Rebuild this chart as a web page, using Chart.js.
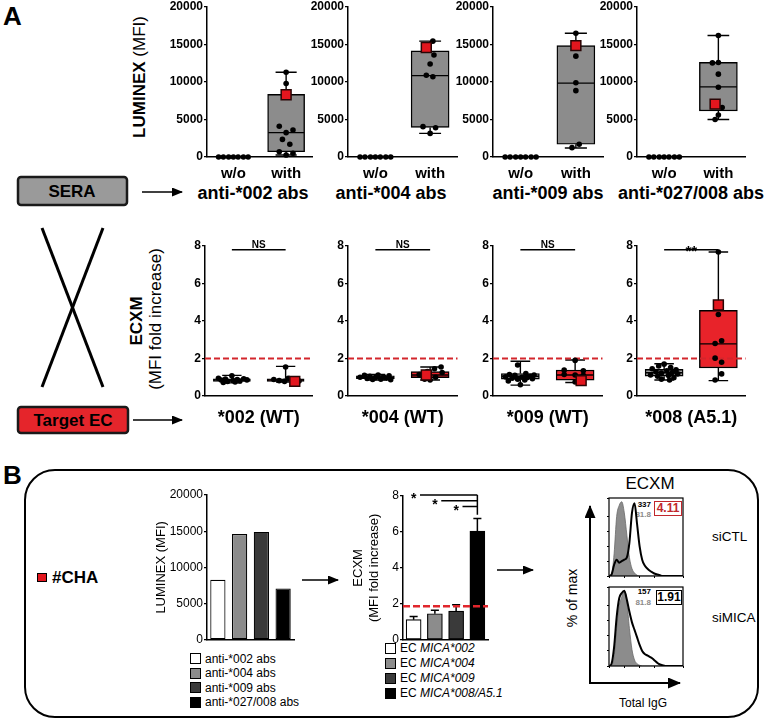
<!DOCTYPE html>
<html><head><meta charset="utf-8"><title>MICA antibodies ECXM</title>
<script src="https://cdn.jsdelivr.net/npm/chart.js@4.4.1/dist/chart.umd.min.js"></script>
<style>
html,body{margin:0;padding:0;background:#fff;}
#fig{position:relative;width:765px;height:720px;overflow:hidden;background:#fff;font-family:"Liberation Sans",Arial,Helvetica,sans-serif;color:#000;}
#fig canvas{position:absolute;}
#fig svg{position:absolute;left:0;top:0;}
.t{position:absolute;white-space:nowrap;line-height:1;}
.c{transform:translate(-50%,-50%);}
.r{transform:translate(-50%,-50%) rotate(-90deg);}
.sq{position:absolute;box-sizing:border-box;border:1px solid #000;}
</style></head>
<body><div id="fig">
<svg width="765" height="720">
<defs>
<marker id="ah" markerWidth="11" markerHeight="9" refX="10" refY="4.5" orient="auto" markerUnits="userSpaceOnUse"><path d="M0,0 L11,4.5 L0,9 z" fill="#000"/></marker>
<marker id="ah2" markerWidth="13" markerHeight="11" refX="12" refY="5.5" orient="auto" markerUnits="userSpaceOnUse"><path d="M0,0 L13,5.5 L0,11 z" fill="#000"/></marker>
</defs>
<rect x="18" y="177" width="109" height="28" rx="3" fill="#9a9a9a" stroke="#1a1a1a" stroke-width="2.5"/>
<line x1="142" y1="192" x2="182" y2="192" stroke="#000" stroke-width="1.6" marker-end="url(#ah)"/>
<line x1="42" y1="228" x2="103" y2="387" stroke="#000" stroke-width="3"/>
<line x1="103" y1="228" x2="42" y2="387" stroke="#000" stroke-width="3"/>
<rect x="18" y="407" width="110" height="26" rx="3" fill="#e5252b" stroke="#1a1a1a" stroke-width="2.5"/>
<line x1="133" y1="420" x2="182" y2="420" stroke="#000" stroke-width="1.6" marker-end="url(#ah)"/>
<rect x="25" y="470" width="733" height="247" rx="30" fill="none" stroke="#000" stroke-width="2"/>
<line x1="302" y1="580" x2="338" y2="580" stroke="#000" stroke-width="1.6" marker-end="url(#ah)"/>
<line x1="497" y1="570" x2="533" y2="570" stroke="#000" stroke-width="1.6" marker-end="url(#ah)"/>
<line x1="590" y1="684" x2="590" y2="506" stroke="#000" stroke-width="2" marker-end="url(#ah2)"/>
<line x1="589" y1="683" x2="680" y2="683" stroke="#000" stroke-width="2" marker-end="url(#ah2)"/>
</svg>
<div class="t" style="left:3px;top:3px;font-size:26px;font-weight:bold;">A</div>
<div class="t" style="left:3px;top:462px;font-size:26px;font-weight:bold;">B</div>
<div class="t c" style="left:72px;top:191px;font-size:17px;font-weight:bold;">SERA</div>
<div class="t c" style="left:73px;top:420px;font-size:17px;font-weight:bold;">Target EC</div>
<div class="t r" style="left:139px;top:77px;font-size:17px;"><b>LUMINEX</b> (MFI)</div>
<div class="t r" style="left:136px;top:321px;font-size:17px;font-weight:bold;">ECXM</div>
<div class="t r" style="left:155px;top:319px;font-size:17px;">(MFI fold increase)</div>
<div class="sq" style="left:37px;top:573px;width:10px;height:9px;background:#e3161e;"></div>
<div class="t" style="left:52px;top:569px;font-size:17px;font-weight:bold;">#CHA</div>
<div class="t c" style="left:650px;top:483px;font-size:17px;">ECXM</div>
<div class="t r" style="left:572px;top:598px;font-size:14px;">% of max</div>
<div class="t c" style="left:643px;top:703px;font-size:12px;">Total IgG</div>
<div class="t" style="left:712px;top:530px;font-size:13.5px;">siCTL</div>
<div class="t" style="left:712px;top:611px;font-size:13.5px;">siMICA</div>
<div id="titles"></div>
<div id="flowtext"></div>
<div id="legends"></div>
</div>
<script>
const FONT='"Liberation Sans", Arial, Helvetica, sans-serif';
Chart.defaults.font.family=FONT;
Chart.defaults.color='#000';

// ================= DATA =================
const groupLabels=['w/o','with'];
const luminexTitles=['anti-*002 abs','anti-*004 abs','anti-*009 abs','anti-*027/008 abs'];
const ecTitles=['*002 (WT)','*004 (WT)','*009 (WT)','*008 (A5.1)'];
const luminexTicks=[0,5000,10000,15000,20000];
const ecxmTicks=[0,2,4,6,8];

// A, top row: LUMINEX MFI of sera without / with anti-MICA antibodies
const lumWithoutAbs=[0,0,0,0,0,0,0];
const lumWithoutJitter=[-0.28,-0.19,-0.09,0,0.09,0.19,0.28];
const lumWith002=[11300,9800,4100,3600,3250,2350,1700,700,500,270];
const lumJit002=[0,0,-0.13,0.13,0,-0.07,0.07,-0.13,0.13,0];
const lumWith004=[15450,13600,12400,10900,10700,4050,3900,3150];
const lumJit004=[0.05,0.07,0,-0.07,0.05,-0.13,0.1,0];
const lumWith009=[16500,13450,9900,8850,1700,1250];
const lumJit009=[0,0,0,0,0.06,-0.07];
const lumWith027=[16200,12550,12600,11050,9300,6600,5600,5000];
const lumJit027=[0,-0.11,0,0,0,0.07,0,-0.06];
// box stats: [min, q1, median, q3, max]
const lumBox002=[270,700,3250,8350,11300];
const lumBox004=[3150,3950,10850,14150,15450];
const lumBox009=[1200,1700,9850,14850,16500];
const lumBox027=[5000,6150,9350,12620,16200];
// patient #CHA (red square)
const lumCHA=[8300,14600,14850,7050];
const lumCHAJitter=[0,-0.07,0,-0.06];

// A, bottom row: ECXM fold increase on target EC
const ecWo002=[1.08,0.95,0.92,0.9,0.88,0.86,0.85,0.83,0.8,0.78,0.75,0.72];
const ecWoJit002=[0,-0.25,0.22,-0.12,0.1,0.28,-0.2,0.02,0.15,-0.08,0.06,-0.16];
const ecWith002=[1.55,0.95,0.88,0.85,0.82,0.8,0.78];
const ecWithJit002=[0,0.05,-0.22,0.12,-0.12,0.25,-0.02];
const ecWo004=[1.12,1.1,1.08,1.05,1.02,1.0,0.98,0.95,0.93,0.9,0.88,0.87];
const ecWoJit004=[0.05,-0.2,0.25,-0.1,0.15,-0.28,0,0.2,-0.15,0.1,-0.05,0.28];
const ecWith004=[1.55,1.45,1.3,1.25,1.15,1.0,0.9,0.85];
const ecWithJit004=[0.2,0.08,-0.05,0.22,-0.2,0.1,-0.1,0];
const ecWo009=[1.65,1.2,1.15,1.12,1.1,1.05,1.02,1.0,0.98,0.95,0.92,0.9,0.85,0.8,0.6];
const ecWoJit009=[-0.05,0.1,-0.2,0.25,-0.1,0.18,-0.27,0.03,0.12,-0.15,0.22,-0.05,0.08,-0.22,0];
const ecWith009=[1.9,1.38,1.35,1.15,1.12,1.1,0.75];
const ecWithJit009=[0,-0.2,0.15,-0.2,0,0.15,0];
const ecWo008=[1.7,1.6,1.52,1.45,1.4,1.35,1.3,1.25,1.22,1.18,1.12,1.1,1.05,0.98,0.9,0.85];
const ecWoJit008=[0,-0.1,0.12,-0.22,0.22,0.05,-0.15,0.15,-0.05,0.25,-0.25,0.08,-0.12,0.18,-0.05,0.1];
const ecWith008=[7.68,4.35,2.95,2.8,2.02,1.8,1.18,0.85];
const ecWithJit008=[0,0,0.06,-0.06,-0.06,0.06,0.06,-0.06];
const ecBoxWo002=[0.7,0.78,0.85,0.92,1.1];
const ecBoxWith002=[0.75,0.78,0.85,0.92,1.58];
const ecBoxWo004=[0.85,0.93,1.0,1.08,1.15];
const ecBoxWith004=[0.85,0.98,1.12,1.3,1.55];
const ecBoxWo009=[0.58,0.9,1.05,1.2,1.85];
const ecBoxWith009=[0.72,0.85,1.12,1.38,1.92];
const ecBoxWo008=[0.85,1.06,1.24,1.42,1.72];
const ecBoxWith008=[0.82,1.5,2.78,4.57,7.68];
const ecCHA=[0.78,1.12,0.82,4.85];
const ecCHAJitter=[0.17,-0.07,0.11,0];
const sigLabels=['NS','NS','NS','**'];
const sigLevel=7.8;
const ecxmThreshold=2;

// B: patient #CHA
const chaLuminexLabels=['anti-*002 abs','anti-*004 abs','anti-*009 abs','anti-*027/008 abs'];
const chaLuminex=[8300,14600,14900,7100];
const chaEcPrefix='EC ';
const chaEcLabels=['MICA*002','MICA*004','MICA*009','MICA*008/A5.1'];
const chaEcxm=[1.12,1.45,1.6,6.05];
const chaEcxmErr=[0.18,0.2,0.35,0.7];
const chaThreshold=1.87;
const chaStars=['*','*','*'];
const chaStarFrom=[0,1,2];
const chaStarLevel=[8.05,7.73,7.41];
const barColors=['#ffffff','#8c8c8c','#3a3a3a','#000000'];

// Flow cytometry histograms (% of max per fluorescence bin)
const siCtlIso=[0,2,30,80,95,100,85,55,25,10,4,1,0,0,0,0,0,0,0,0,0,0,0,0,0,0,0,0,0,0];
const siCtlIgG=[0,2,15,22,18,20,22,25,45,85,98,70,40,22,14,10,7,5,3,2,1,0,0,0,0,0,0,0,0,0];
const siMicaIso=[0,1,12,50,80,92,100,85,50,22,8,3,1,0,0,0,0,0,0,0,0,0,0,0,0,0,0,0,0,0];
const siMicaIgG=[0,3,25,65,90,97,100,88,72,58,48,38,28,20,16,14,12,10,7,4,2,1,0,0,0,0,0,0,0,0];
const flowMFI=['337','157'];
const flowIsoMFI=['81.8','81.8'];
const flowRatio=['4.11','1.91'];

// ================= HELPERS =================
const fig=document.getElementById('fig');
function mk(left,top,w,h){
  const c=document.createElement('canvas');
  c.width=w;c.height=h;c.style.left=left+'px';c.style.top=top+'px';
  c.style.width=w+'px';c.style.height=h+'px';
  fig.appendChild(c);return c;
}
const common={responsive:false,animation:false,devicePixelRatio:1,events:[]};
const noPlug={legend:{display:false},tooltip:{enabled:false}};
const GAPY=c=>({x:c,y:null});

const textMarks={id:'textMarks',afterDatasetsDraw(chart,args,opts){
  const items=(opts&&opts.items)||[];const ctx=chart.ctx;ctx.save();
  items.forEach(it=>{
    const x=chart.scales.x.getPixelForValue(it.x);
    const y=chart.scales.y.getPixelForValue(it.y);
    ctx.font=it.font;ctx.fillStyle=it.color||'#000';
    ctx.textAlign=it.align||'center';ctx.textBaseline='alphabetic';
    ctx.fillText(it.text,x+(it.dx||0),y+(it.dy||0));
  });ctx.restore();}};
const frame={id:'frame',afterDraw(chart){const a=chart.chartArea,c=chart.ctx;c.save();c.strokeStyle='#000';c.lineWidth=1.2;c.strokeRect(a.left,a.top,a.right-a.left,a.bottom-a.top);c.restore();}};

function boxSets(groups,half,cap,thick){
  const seg=[],med=[];
  groups.forEach(g=>{
    const [mn,q1,md,q3,mx]=g.stats;const c=g.c;
    seg.push({x:c,y:q3},{x:c,y:mx},GAPY(c),{x:c-cap,y:mx},{x:c+cap,y:mx},GAPY(c),
             {x:c,y:q1},{x:c,y:mn},GAPY(c),{x:c-cap,y:mn},{x:c+cap,y:mn},GAPY(c));
    med.push({x:c-half,y:md},{x:c+half,y:md},GAPY(c));
  });
  return [
    {type:'bar',data:groups.map(g=>({x:g.c,y:[g.stats[1],g.stats[3]]})),backgroundColor:groups.map(g=>g.fill),
     borderColor:'#000',borderWidth:1.4,borderSkipped:false,barThickness:thick,order:6},
    {type:'line',data:seg,borderColor:'#000',borderWidth:1.4,pointRadius:0,spanGaps:false,fill:false,order:4,clip:false},
    {type:'line',data:med,borderColor:'#000',borderWidth:1.4,pointRadius:0,spanGaps:false,fill:false,order:3,clip:false}
  ];
}
function dots(vals,jit,c){
  return {type:'scatter',data:vals.map((v,k)=>({x:c+jit[k],y:v})),pointRadius:2.8,backgroundColor:'#000',borderColor:'#000',borderWidth:0,clip:false,order:1};
}
function redSq(v,j,c){
  return {type:'scatter',data:[{x:c+j,y:v}],pointStyle:'rect',pointRadius:7,backgroundColor:'#e3161e',borderColor:'#2a0505',borderWidth:1.5,clip:false,order:0};
}
function yAxis(ticksArr,width,font,title){
  return {type:'linear',min:ticksArr[0],max:ticksArr[ticksArr.length-1],
    afterBuildTicks(s){s.ticks=ticksArr.map(v=>({value:v}));},
    ticks:{font,color:'#000',padding:1,callback:v=>String(v)},
    grid:{drawOnChartArea:false,drawTicks:true,tickLength:3,color:'#000',lineWidth:1.2},
    border:{color:'#000',width:1.5},
    title:title||{display:false},
    afterFit(s){s.width=width;}};
}
function xGroups(showTicks,title,height){
  return {type:'linear',min:0,max:2,offset:false,
    afterBuildTicks(s){s.ticks=[{value:0.5},{value:1.5}];},
    ticks:{display:showTicks,callback:(v,i)=>groupLabels[i],font:{size:15,weight:'bold'},padding:8,color:'#000',autoSkip:false,maxRotation:0},
    grid:{display:false,drawTicks:false},border:{color:'#000',width:1.5},
    title:title?{display:true,text:title,font:{size:18,weight:'bold'},padding:{top:0,bottom:1},color:'#000'}:{display:false},
    afterFit(s){s.height=height;}};
}

// ================= A: top row (LUMINEX) =================
const LUM_X0=[207,348,493,637], LUM_W=[108,112,113,111];
const LUM_TITLE_X=[253,391,548,691];
const lumWith=[lumWith002,lumWith004,lumWith009,lumWith027];
const lumJit=[lumJit002,lumJit004,lumJit009,lumJit027];
const lumBox=[lumBox002,lumBox004,lumBox009,lumBox027];
const titlesDiv=document.getElementById('titles');
for(let i=0;i<4;i++){
  const WY=52,PT=10,PR=6,HX=48,w=LUM_W[i];
  const cv=mk(LUM_X0[i]-WY,7-PT,WY+w+PR,PT+150+HX);
  const thick=Math.round(0.68*w/2);
  new Chart(cv,{type:'bar',data:{datasets:[
      ...boxSets([{c:1.5,stats:lumBox[i],fill:'#8c8c8c'}],0.34,0.2,thick),
      dots(lumWithoutAbs,lumWithoutJitter,0.5),
      dots(lumWith[i],lumJit[i],1.5),
      redSq(lumCHA[i],lumCHAJitter[i],1.5)]},
    options:{...common,layout:{padding:{top:PT,right:PR,left:0,bottom:0}},plugins:noPlug,
      scales:{x:xGroups(true,null,HX),
              y:yAxis(luminexTicks,WY,{size:12,weight:'bold'})}}});
  titlesDiv.insertAdjacentHTML('beforeend',`<div class="t c" style="left:${LUM_TITLE_X[i]}px;top:193px;font-size:18px;font-weight:bold;">${luminexTitles[i]}</div>`);
}

// ================= A: bottom row (ECXM) =================
const EC_X0=[205,348,493,637], EC_W=[110,112,112,111];
const ecWo=[ecWo002,ecWo004,ecWo009,ecWo008], ecWoJit=[ecWoJit002,ecWoJit004,ecWoJit009,ecWoJit008];
const ecWith=[ecWith002,ecWith004,ecWith009,ecWith008], ecWithJit=[ecWithJit002,ecWithJit004,ecWithJit009,ecWithJit008];
const ecBoxWo=[ecBoxWo002,ecBoxWo004,ecBoxWo009,ecBoxWo008], ecBoxWith=[ecBoxWith002,ecBoxWith004,ecBoxWith009,ecBoxWith008];
for(let i=0;i<4;i++){
  const WY=52,PT=10,PR=6,HX=34,w=EC_W[i];
  const cv=mk(EC_X0[i]-WY,246-PT,WY+w+PR,PT+150+HX);
  const thick=Math.round(0.68*w/2);
  const star=sigLabels[i]==='**';
  new Chart(cv,{type:'bar',data:{datasets:[
      ...boxSets([{c:0.5,stats:ecBoxWo[i],fill:'#9d9d9d'},{c:1.5,stats:ecBoxWith[i],fill:'#e8232a'}],0.34,0.18,thick),
      {type:'line',data:[{x:0,y:ecxmThreshold},{x:2,y:ecxmThreshold}],borderColor:'#d3262c',borderWidth:2,borderDash:[6,3],pointRadius:0,order:2,clip:false},
      {type:'line',data:[{x:0.5,y:sigLevel},{x:1.5,y:sigLevel}],borderColor:'#000',borderWidth:1.6,pointRadius:0,order:2,clip:false},
      dots(ecWo[i],ecWoJit[i],0.5),
      dots(ecWith[i],ecWithJit[i],1.5),
      redSq(ecCHA[i],ecCHAJitter[i],1.5)]},
    plugins:[textMarks],
    options:{...common,layout:{padding:{top:PT,right:PR,left:0,bottom:0}},
      plugins:{...noPlug,textMarks:{items:[{x:1,y:sigLevel,text:sigLabels[i],font:star?'bold 15px '+FONT:'bold 10px '+FONT,dy:star?6:-2}]}},
      scales:{x:xGroups(false,ecTitles[i],HX),
              y:yAxis(ecxmTicks,WY,{size:12,weight:'bold'})}}});
}

// ================= B: LUMINEX bars =================
(function(){
  const WY=62,PT=10,PR=4,HX=3;
  const cv=mk(207-WY,495-PT,WY+87+PR,PT+150+HX);
  new Chart(cv,{type:'bar',data:{labels:chaLuminexLabels,datasets:[
      {data:chaLuminex,backgroundColor:barColors,borderColor:'#000',borderWidth:1.2,borderSkipped:false,barPercentage:0.7,categoryPercentage:1}]},
    options:{...common,layout:{padding:{top:PT,right:PR,left:0,bottom:0}},plugins:noPlug,
      scales:{x:{type:'category',offset:true,ticks:{display:false},grid:{display:false,drawTicks:false},border:{color:'#000',width:1.5},afterFit(s){s.height=HX;}},
              y:yAxis(luminexTicks,WY,{size:12},{display:true,text:'LUMINEX (MFI)',font:{size:13},padding:{top:9,bottom:0},color:'#000'})}}});
})();

// ================= B: ECXM bars =================
(function(){
  const WY=54,PT=10,PR=4,HX=3;
  const cv=mk(403-WY,496-PT,WY+85+PR,PT+149+HX);
  const err=[];
  chaEcxm.forEach((v,k)=>{const t=v+chaEcxmErr[k];
    err.push({x:k,y:v},{x:k,y:t},GAPY(k),{x:k-0.19,y:t},{x:k+0.19,y:t},GAPY(k));});
  const br=[];
  chaStarFrom.forEach((f,k)=>{br.push({x:f+0.3,y:chaStarLevel[k]},{x:3,y:chaStarLevel[k]},GAPY(3));});
  br.push({x:3,y:chaStarLevel[0]},{x:3,y:chaEcxm[3]+chaEcxmErr[3]+0.2});
  new Chart(cv,{type:'bar',data:{datasets:[
      {type:'bar',data:chaEcxm.map((v,k)=>({x:k,y:v})),backgroundColor:barColors,borderColor:'#000',borderWidth:1.2,borderSkipped:false,barThickness:15,order:5},
      {type:'line',data:err,borderColor:'#000',borderWidth:1.5,pointRadius:0,spanGaps:false,order:3,clip:false},
      {type:'line',data:[{x:-0.5,y:chaThreshold},{x:3.5,y:chaThreshold}],borderColor:'#e0262c',borderWidth:2.5,borderDash:[7,3],pointRadius:0,order:2,clip:false},
      {type:'line',data:br,borderColor:'#000',borderWidth:1.5,pointRadius:0,spanGaps:false,order:1,clip:false}]},
    plugins:[textMarks],
    options:{...common,layout:{padding:{top:PT,right:PR,left:0,bottom:0}},
      plugins:{...noPlug,textMarks:{items:chaStarFrom.map((f,k)=>({x:f,y:chaStarLevel[k],text:chaStars[k],font:'bold 14px '+FONT,dy:8}))}},
      scales:{x:{type:'linear',min:-0.5,max:3.5,offset:false,ticks:{display:false},grid:{display:false,drawTicks:false},border:{color:'#000',width:1.5},afterFit(s){s.height=HX;}},
              y:yAxis(ecxmTicks,WY,{size:12},{display:true,text:['ECXM','(MFI fold increase)'],font:{size:13},padding:{top:2,bottom:0},color:'#000'})}}});
})();

// ================= B: flow histograms =================
function flowPanel(top,h,iso,igg){
  const WY=3,PT=4,PR=2,HX=3;
  const cv=mk(609-WY,top-PT,WY+74+PR,PT+h+HX);
  new Chart(cv,{type:'line',data:{datasets:[
      {data:igg.map((v,k)=>({x:k,y:v})),borderColor:'#000',borderWidth:2,fill:false,pointRadius:0,cubicInterpolationMode:'monotone'},
      {data:iso.map((v,k)=>({x:k,y:v})),borderColor:'#6a6a6a',borderWidth:0.8,backgroundColor:'#8c8c8c',fill:'origin',pointRadius:0,cubicInterpolationMode:'monotone'}]},
    plugins:[frame],
    options:{...common,layout:{padding:{top:PT,right:PR,left:0,bottom:0}},plugins:noPlug,
      scales:{x:{type:'linear',min:0,max:29,ticks:{display:false,stepSize:6},grid:{drawOnChartArea:false,tickLength:2,color:'#000'},border:{display:false},afterFit(s){s.height=HX;}},
              y:{type:'linear',min:0,max:105,ticks:{display:false,stepSize:20},grid:{drawOnChartArea:false,tickLength:2,color:'#000'},border:{display:false},afterFit(s){s.width=WY;}}}}});
}
flowPanel(498,78,siCtlIso,siCtlIgG);
flowPanel(587,79,siMicaIso,siMicaIgG);

// flow annotations and legends (text)
const ft=document.getElementById('flowtext');
[[505,515,501,654,28,'#c0282d'],[592,603,590,656,26,'#000']].forEach((p,k)=>{
  ft.insertAdjacentHTML('beforeend',
   `<div class="t" style="left:629px;width:22px;text-align:right;top:${p[0]-4}px;font-size:8px;font-weight:bold;">${flowMFI[k]}</div>`+
   `<div class="t" style="left:629px;width:22px;text-align:right;top:${p[1]-4}px;font-size:8px;font-weight:bold;color:#8a8a8a;">${flowIsoMFI[k]}</div>`+
   `<div class="t" style="left:${p[3]}px;top:${p[2]}px;width:${p[4]}px;height:15px;box-sizing:border-box;border:1.5px solid ${p[5]};color:${p[5]};font-size:12px;font-weight:bold;text-align:center;line-height:12px;background:#fff;">${flowRatio[k]}</div>`);
});
const lg=document.getElementById('legends');
chaLuminexLabels.forEach((l,k)=>{
  const cy=658.5+k*14.5;
  lg.insertAdjacentHTML('beforeend',`<div class="sq" style="left:190px;top:${cy-5.5}px;width:11px;height:11px;background:${barColors[k]};"></div><div class="t" style="left:205px;top:${cy-6}px;font-size:12px;">${l}</div>`);
});
chaEcLabels.forEach((l,k)=>{
  const cy=648+k*15;
  lg.insertAdjacentHTML('beforeend',`<div class="sq" style="left:385px;top:${cy-5.5}px;width:11px;height:11px;background:${barColors[k]};"></div><div class="t" style="left:400px;top:${cy-6}px;font-size:12px;">${chaEcPrefix}<i>${l}</i></div>`);
});
</script>
</body></html>
